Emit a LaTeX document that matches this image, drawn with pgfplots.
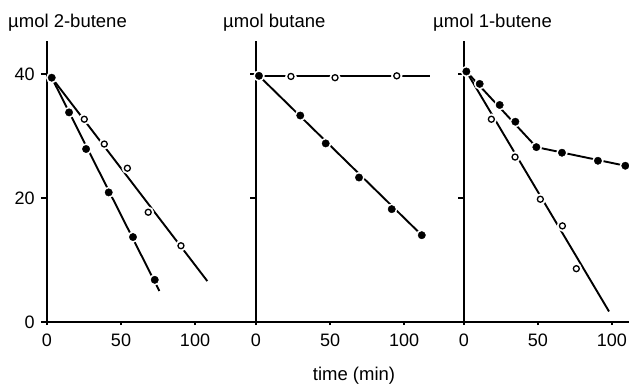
\documentclass[border=0pt]{standalone}
\usepackage{fontspec}
\setmainfont{Liberation Sans}
\usepackage{pgfplots}
\pgfplotsset{compat=1.18}
\begin{document}
\fontsize{18.5bp}{22bp}\selectfont
\begin{tikzpicture}
\pgfplotsset{
  panel/.style={
    scale only axis,
    axis x line=bottom, axis y line=left,
    axis line style={-, line width=1.3bp, black},
    axis on top,
    clip=false,
    ymin=0, ymax=45.3, height=280.9bp,
    xmin=0,
    xtick={0,50,100}, ytick={0,20,40},
    tick align=outside,
    major tick length=6bp,
    xtick style={/pgfplots/major tick length=3bp},
    every tick/.style={line width=1.1bp, black},
    /pgf/number format/assume math mode=true,
    ticklabel style={font=\fontsize{18bp}{21bp}\selectfont},
  },
  fit/.style={no marks, line width=1.9bp, black},
  halo/.style={only marks, mark=*, mark size=5.5bp, mark options={draw=white, fill=white}},
  filled/.style={only marks, mark=*, mark size=3.7bp, mark options={draw=black, fill=black}},
  open/.style={only marks, mark=*, mark size=3.0bp, mark options={draw=black, fill=white, line width=1.3bp}},
}
% Panel 1: 2-butene
\begin{axis}[panel, xmax=141, width=208.7bp]
\addplot[fit] coordinates {(3.2,39.4) (75.9,5.0)};
\addplot[fit] coordinates {(3.2,39.4) (108.3,6.6)};
\addplot[halo] coordinates {(3.2,39.4) (14.9,33.8) (26.4,27.9) (41.7,20.9) (58.1,13.7) (72.8,6.8) (25.2,32.7) (38.7,28.7) (54.3,24.8) (68.4,17.7) (90.5,12.3)};
\addplot[filled] coordinates {(3.2,39.4) (14.9,33.8) (26.4,27.9) (41.7,20.9) (58.1,13.7) (72.8,6.8)};
\addplot[open] coordinates {(25.2,32.7) (38.7,28.7) (54.3,24.8) (68.4,17.7) (90.5,12.3)};
\end{axis}
% Panel 2: butane
\begin{axis}[panel, xmax=141, width=208.7bp, xshift=209bp, yticklabels={}]
\addplot[fit] coordinates {(2,39.7) (112,14.0)};
\addplot[fit] coordinates {(2,39.7) (117.6,39.7)};
\addplot[halo] coordinates {(2,39.7) (29.9,33.3) (47.1,28.8) (69.6,23.3) (91.7,18.2) (112,14.0) (23.6,39.6) (53.4,39.4) (95.1,39.7)};
\addplot[filled] coordinates {(2,39.7) (29.9,33.3) (47.1,28.8) (69.6,23.3) (91.7,18.2) (112,14.0)};
\addplot[open] coordinates {(23.6,39.6) (53.4,39.4) (95.1,39.7)};
\end{axis}
% Panel 3: 1-butene
\begin{axis}[panel, xmax=111.3, width=164.7bp, xshift=417bp, yticklabels={}]
\addplot[fit] coordinates {(1.6,40.4) (48.9,28.2) (109,25.2)};
\addplot[fit] coordinates {(1.6,40.4) (98,1.7)};
\addplot[halo] coordinates {(1.6,40.4) (10.6,38.4) (24.1,35.0) (34.7,32.3) (48.9,28.2) (66.2,27.3) (90.5,26.0) (109,25.2) (18.5,32.7) (34.5,26.6) (51.6,19.8) (66.5,15.5) (75.9,8.6)};
\addplot[filled] coordinates {(1.6,40.4) (10.6,38.4) (24.1,35.0) (34.7,32.3) (48.9,28.2) (66.2,27.3) (90.5,26.0) (109,25.2)};
\addplot[open] coordinates {(18.5,32.7) (34.5,26.6) (51.6,19.8) (66.5,15.5) (75.9,8.6)};
\end{axis}
% titles
\node[anchor=base west, inner sep=0pt] at (-39bp,294bp) {µmol 2-butene};
\node[anchor=base west, inner sep=0pt] at (176bp,294bp) {µmol butane};
\node[anchor=base west, inner sep=0pt] at (386bp,294bp) {µmol 1-butene};
\node[anchor=base, inner sep=0pt] at (307bp,-58bp) {time (min)};
\pgfresetboundingbox
\path[use as bounding box] (-47bp,-63bp) rectangle (582bp,322bp);
\end{tikzpicture}
\end{document}
